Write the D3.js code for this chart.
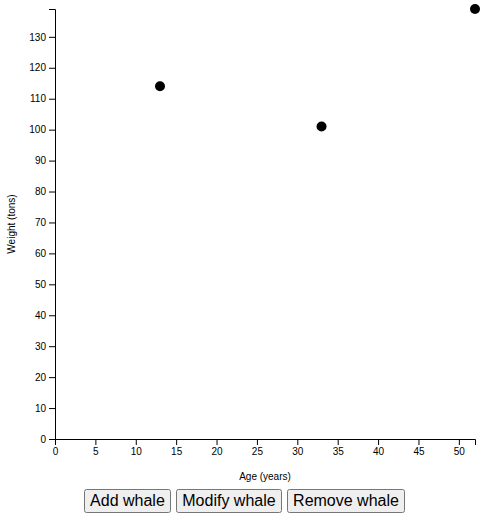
<!DOCTYPE html>
<html>
<head>
<meta charset="utf-8">
<script src="https://cdn.jsdelivr.net/npm/d3@7"></script>
<style>
    body { margin: 0; font-family: "Liberation Sans", Arial, sans-serif; }
    #chart { display: block; }
    #buttons { text-align: center; margin-top: 4px; padding-right: 5px; }
    #buttons button {
        font-family: "Liberation Sans", Arial, sans-serif;
        font-size: 16px;
        padding: 1px 4.5px;
    }
</style>
</head>
<body>
<svg id="chart"></svg>
<div id="buttons">
    <button>Add whale</button>
    <button>Modify whale</button>
    <button>Remove whale</button>
</div>
<script>
// whale data
var ages = [13, 33, 52];
var weights = [114, 101, 139];
var xTicks = [0, 5, 10, 15, 20, 25, 30, 35, 40, 45, 50];
var yTicks = [0, 10, 20, 30, 40, 50, 60, 70, 80, 90, 100, 110, 120, 130];

(function () {
    'use strict';
    var margin = {top: 9, right: 19, bottom: 46, left: 55},
        width = 494 - margin.left - margin.right,
        height = 485 - margin.top - margin.bottom,
        whales, svg, x, y;

    whales = ages.map(function (a, i) {
        return {age: a, weight: weights[i]};
    });

    x = d3.scaleLinear()
        .domain([0, d3.max(ages)])
        .range([0, width]);

    y = d3.scaleLinear()
        .domain([0, d3.max(weights)])
        .range([height, 0]);

    svg = d3.select("#chart")
        .attr("width", width + margin.left + margin.right)
        .attr("height", height + margin.top + margin.bottom)
        .append("g")
        .attr("transform", "translate(" + margin.left + "," + margin.top + ")");

    svg.append("g")
        .attr("transform", "translate(0," + height + ")")
        .call(d3.axisBottom(x).tickValues(xTicks));

    svg.append("g")
        .call(d3.axisLeft(y).tickValues(yTicks));

    // axis labels
    svg.append("text")
        .attr("x", width / 2)
        .attr("y", height + 41)
        .attr("text-anchor", "middle")
        .style("font-size", "10px")
        .style("font-family", "sans-serif")
        .text("Age (years)");

    svg.append("text")
        .attr("transform", "rotate(-90)")
        .attr("x", -height / 2)
        .attr("y", -40)
        .attr("text-anchor", "middle")
        .style("font-size", "10px")
        .style("font-family", "sans-serif")
        .text("Weight (tons)");

    svg.selectAll("circle.whale")
        .data(whales)
        .enter()
        .append("circle")
        .attr("class", "whale")
        .attr("cx", function (d) { return x(d.age); })
        .attr("cy", function (d) { return y(d.weight); })
        .attr("r", 5)
        .style("fill", "#000");
}());
</script>
</body>
</html>
